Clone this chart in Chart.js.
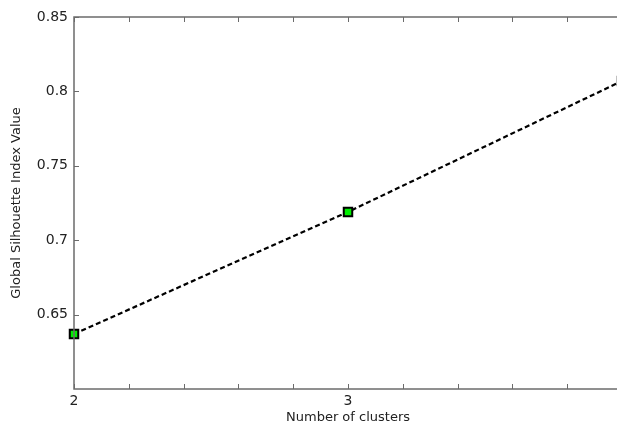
<!DOCTYPE html>
<html>
<head>
<meta charset="utf-8">
<script src="https://cdn.jsdelivr.net/npm/chart.js@4/dist/chart.umd.min.js"></script>
<style>
  html, body { margin: 0; padding: 0; background: #fff; overflow: hidden; }
  #wrap { width: 640px; height: 427px; }
</style>
</head>
<body>
<div id="wrap"><canvas id="silhouetteChart"></canvas></div>
<script>
const clusters = [2, 3, 4];
const silhouette = [0.637, 0.719, 0.807];
const xTickValues = [2, 2.2, 2.4, 2.6, 2.8, 3, 3.2, 3.4, 3.6, 3.8, 4];
const yTickValues = [0.65, 0.7, 0.75, 0.8, 0.85];

const axisColor = "#6b6b6b";
const textColor = "#222";
const fontFamily = "'DejaVu Sans', sans-serif";

// matlab-style box with inward ticks
const boxTicks = {
  id: "boxTicks",
  afterDraw(chart) {
    const { ctx, chartArea: a, scales } = chart;
    ctx.save();
    ctx.strokeStyle = axisColor;
    ctx.lineWidth = 1.5;
    ctx.strokeRect(a.left, a.top, a.right - a.left, a.bottom - a.top);
    ctx.lineWidth = 1;
    ctx.beginPath();
    scales.x.ticks.forEach(t => {
      const px = Math.round(scales.x.getPixelForValue(t.value)) + 0.5;
      ctx.moveTo(px, a.bottom); ctx.lineTo(px, a.bottom - 5);
      ctx.moveTo(px, a.top); ctx.lineTo(px, a.top + 5);
    });
    scales.y.ticks.forEach(t => {
      const py = Math.round(scales.y.getPixelForValue(t.value)) + 0.5;
      ctx.moveTo(a.left, py); ctx.lineTo(a.left + 5, py);
      ctx.moveTo(a.right, py); ctx.lineTo(a.right - 5, py);
    });
    ctx.stroke();
    ctx.restore();
  }
};

new Chart(document.getElementById("silhouetteChart"), {
  type: "line",
  data: {
    datasets: [{
      data: clusters.map((c, i) => ({ x: c, y: silhouette[i] })),
      borderColor: "#000",
      borderWidth: 2.2,
      borderDash: [5, 3],
      fill: false,
      tension: 0,
      pointStyle: "rect",
      pointRadius: 6,
      pointBorderWidth: 2,
      pointBackgroundColor: "#00ee00",
      pointBorderColor: "#000",
      clip: false
    }]
  },
  options: {
    responsive: true,
    maintainAspectRatio: false,
    animation: false,
    layout: { padding: { top: 17, right: 18, left: 0, bottom: 0 } },
    plugins: { legend: { display: false }, tooltip: { enabled: false } },
    scales: {
      x: {
        type: "linear",
        min: 2,
        max: 4,
        afterBuildTicks: s => { s.ticks = xTickValues.map(v => ({ value: v })); },
        afterFit: s => { s.height = 38; },
        grid: { display: false, drawTicks: false },
        border: { display: false },
        ticks: {
          autoSkip: false,
          maxRotation: 0,
          padding: 4,
          color: textColor,
          font: { family: fontFamily, size: 14 },
          callback: v => Number.isInteger(v) ? String(v) : ""
        },
        title: {
          display: true,
          text: "Number of clusters",
          color: textColor,
          font: { family: fontFamily, size: 13 },
          padding: { top: 0, bottom: 2 }
        }
      },
      y: {
        min: 0.6,
        max: 0.85,
        afterBuildTicks: s => { s.ticks = yTickValues.map(v => ({ value: v })); },
        afterFit: s => { s.width = 74; },
        grid: { display: false, drawTicks: false },
        border: { display: false },
        ticks: {
          autoSkip: false,
          padding: 6,
          color: textColor,
          font: { family: fontFamily, size: 14 },
          callback: v => String(+v.toFixed(2))
        },
        title: {
          display: true,
          text: "Global Silhouette Index Value",
          color: textColor,
          font: { family: fontFamily, size: 13 },
          padding: { top: 9, bottom: 0 }
        }
      }
    }
  },
  plugins: [boxTicks]
});
</script>
</body>
</html>
